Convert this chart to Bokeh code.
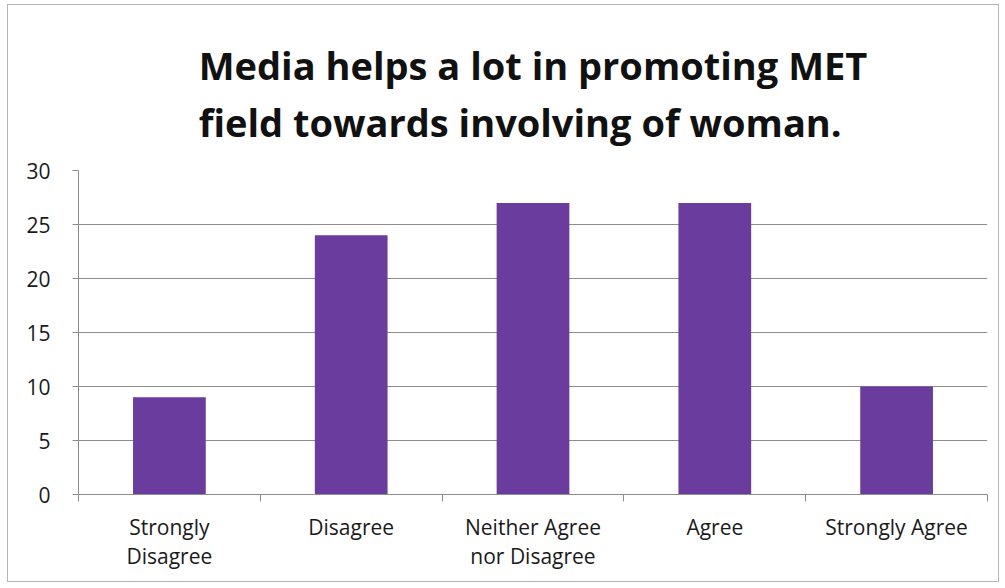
from bokeh.plotting import figure
from bokeh.models import FixedTicker, Range1d, ColumnDataSource, Title
from bokeh.embed import file_html
from bokeh.resources import INLINE

categories = ["Strongly\nDisagree", "Disagree", "Neither Agree\nnor Disagree", "Agree", "Strongly Agree"]
values = [9, 24, 27, 27, 10]
y_ticks = [0, 5, 10, 15, 20, 25, 30]
title_lines = ["Media helps a lot in promoting MET", "field towards involving of woman."]

xpos = [i + 0.5 for i in range(len(categories))]
src = ColumnDataSource(dict(x=xpos, top=values, cat=categories))

p = figure(width=992, height=578, output_backend="svg", toolbar_location=None,
           x_range=Range1d(0, len(categories)), y_range=Range1d(0, 30),
           min_border_left=70, min_border_right=13, min_border_top=165, min_border_bottom=89)
p.styles = {"border": "1.5px solid #b5b5b5", "margin-left": "7px", "margin-top": "4px"}

p.title = Title(text="\n".join(title_lines), align="center", text_font="Open Sans",
                text_font_size="38px", text_font_style="bold", text_color="#111111",
                standoff=45, text_line_height=1.1)

p.vbar(x="x", top="top", width=0.4, bottom=0, source=src, fill_color="#6a3c9e", line_color=None)

p.outline_line_color = None
p.background_fill_color = "white"
p.border_fill_color = "white"

p.xgrid.grid_line_color = None
p.ygrid.grid_line_color = "#8c8c8c"
p.ygrid.grid_line_width = 1
p.ygrid.ticker = FixedTicker(ticks=y_ticks)

p.yaxis.ticker = FixedTicker(ticks=y_ticks, minor_ticks=[])
p.yaxis.axis_line_color = "#8c8c8c"
p.yaxis.major_tick_line_color = "#8c8c8c"
p.yaxis.major_tick_out = 6
p.yaxis.major_tick_in = 0
p.yaxis.minor_tick_line_color = None
p.yaxis.major_label_text_font = "Open Sans"
p.yaxis.major_label_text_font_size = "21px"
p.yaxis.major_label_text_color = "#1a1a1a"
p.yaxis.major_label_standoff = 22

p.xaxis.ticker = FixedTicker(ticks=xpos, minor_ticks=list(range(len(categories) + 1)))
p.xaxis.major_label_overrides = {x: c for x, c in zip(xpos, categories)}
p.xaxis.axis_line_color = "#8c8c8c"
p.xaxis.major_tick_line_color = None
p.xaxis.major_tick_out = 0
p.xaxis.major_tick_in = 0
p.xaxis.minor_tick_line_color = "#8c8c8c"
p.xaxis.minor_tick_out = 7
p.xaxis.minor_tick_in = 0
p.xaxis.major_label_text_font = "Open Sans"
p.xaxis.major_label_text_font_size = "21px"
p.xaxis.major_label_text_color = "#1a1a1a"
p.xaxis.major_label_standoff = 11
p.xaxis.major_label_text_line_height = 1.05

open("out.html", "w").write(file_html(p, INLINE))
